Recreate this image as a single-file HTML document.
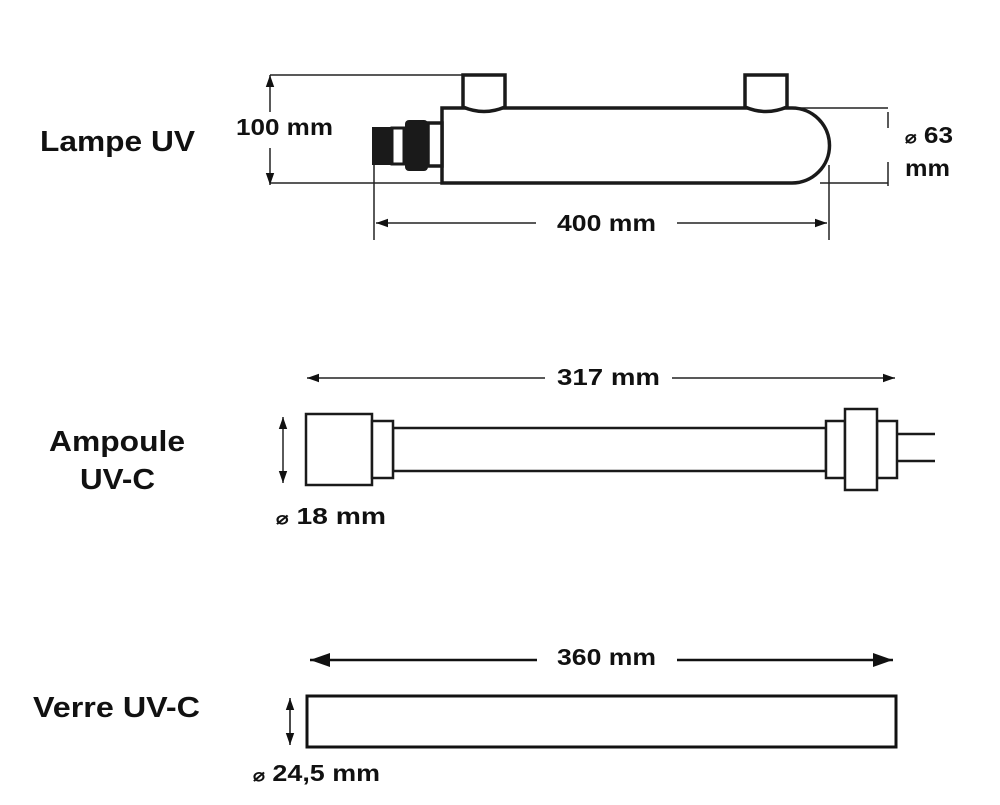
<!DOCTYPE html>
<html><head><style>
body{margin:0;background:#fff;}
svg text{font-family:"Liberation Sans",Arial,sans-serif;font-weight:bold;fill:#111;}
</style></head><body>
<svg width="1000" height="800" viewBox="0 0 1000 800" xmlns="http://www.w3.org/2000/svg">
<defs>
<marker id="a" viewBox="0 0 10 10" refX="10" refY="5" markerWidth="8" markerHeight="8" orient="auto-start-reverse"><path d="M0,1.5 L10,5 L0,8.5 z" fill="#111"/></marker>
</defs>
<text x="40" y="151" font-size="29" textLength="155" lengthAdjust="spacingAndGlyphs">Lampe UV</text>
<text x="236" y="135" font-size="23" textLength="97" lengthAdjust="spacingAndGlyphs">100 mm</text>
<text x="905" y="143" font-size="23" textLength="48" lengthAdjust="spacingAndGlyphs"><tspan font-size="17">⌀</tspan> 63</text>
<text x="905" y="176" font-size="23" textLength="45" lengthAdjust="spacingAndGlyphs">mm</text>
<text x="557" y="231" font-size="23" textLength="99" lengthAdjust="spacingAndGlyphs">400 mm</text>
<g stroke="#222" stroke-width="1.5" fill="none">
<line x1="270" y1="75" x2="505" y2="75"/>
<line x1="270" y1="183" x2="442" y2="183"/>
<line x1="270" y1="112" x2="270" y2="75" marker-end="url(#a)"/>
<line x1="270" y1="148" x2="270" y2="185" marker-end="url(#a)"/>
<line x1="787" y1="108" x2="888" y2="108"/>
<line x1="820" y1="183" x2="888" y2="183"/>
<line x1="888" y1="112" x2="888" y2="128"/>
<line x1="888" y1="162" x2="888" y2="186"/>
<line x1="374" y1="165" x2="374" y2="240"/>
<line x1="829" y1="165" x2="829" y2="240"/>
<line x1="536" y1="223" x2="376" y2="223" marker-end="url(#a)"/>
<line x1="677" y1="223" x2="827" y2="223" marker-end="url(#a)"/>
</g>
<g stroke="#1a1a1a" stroke-width="3.5" fill="#fff">
<path d="M442,108 H792 A37.5,37.5 0 0 1 792,183 H442 Z"/>
<path d="M463,75 H505 V107 Q484,116 463,107 Z"/>
<path d="M745,75 H787 V107 Q766,116 745,107 Z"/>
<rect x="428" y="123" width="14" height="43"/>
</g>
<rect x="372" y="127" width="20" height="38" fill="#1a1a1a"/>
<rect x="392" y="128" width="12" height="36" fill="#fff" stroke="#1a1a1a" stroke-width="3"/>
<rect x="405" y="120" width="23" height="51" rx="4" fill="#1a1a1a"/>

<text x="49" y="451" font-size="29" textLength="136" lengthAdjust="spacingAndGlyphs">Ampoule</text>
<text x="80" y="489" font-size="29" textLength="75" lengthAdjust="spacingAndGlyphs">UV-C</text>
<text x="276" y="524" font-size="23" textLength="110" lengthAdjust="spacingAndGlyphs"><tspan font-size="17">⌀</tspan> 18 mm</text>
<text x="557" y="385" font-size="23" textLength="103" lengthAdjust="spacingAndGlyphs">317 mm</text>
<g stroke="#222" stroke-width="1.5" fill="none">
<line x1="545" y1="378" x2="307" y2="378" marker-end="url(#a)"/>
<line x1="672" y1="378" x2="895" y2="378" marker-end="url(#a)"/>
<line x1="283" y1="450" x2="283" y2="417" marker-end="url(#a)"/>
<line x1="283" y1="450" x2="283" y2="483" marker-end="url(#a)"/>
</g>
<g stroke="#1a1a1a" stroke-width="2.5" fill="#fff">
<rect x="393" y="428" width="433" height="43"/>
<rect x="306" y="414" width="66" height="71"/>
<rect x="372" y="421" width="21" height="57"/>
<rect x="826" y="421" width="19" height="57"/>
<rect x="877" y="421" width="20" height="57"/>
<rect x="845" y="409" width="32" height="81"/>
<line x1="897" y1="434" x2="935" y2="434"/>
<line x1="897" y1="461" x2="935" y2="461"/>
</g>

<text x="33" y="717" font-size="29" textLength="167" lengthAdjust="spacingAndGlyphs">Verre UV-C</text>
<text x="557" y="665" font-size="23" textLength="99" lengthAdjust="spacingAndGlyphs">360 mm</text>
<text x="253" y="781" font-size="23" textLength="127" lengthAdjust="spacingAndGlyphs"><tspan font-size="17">⌀</tspan> 24,5 mm</text>
<g stroke="#111" stroke-width="2.5" fill="none">
<line x1="537" y1="660" x2="310" y2="660" marker-end="url(#a)"/>
<line x1="677" y1="660" x2="893" y2="660" marker-end="url(#a)"/>
</g>
<g stroke="#111" stroke-width="1.5" fill="none">
<line x1="290" y1="720" x2="290" y2="698" marker-end="url(#a)"/>
<line x1="290" y1="720" x2="290" y2="745" marker-end="url(#a)"/>
</g>
<rect x="307" y="696" width="589" height="51" fill="#fff" stroke="#111" stroke-width="3"/>
</svg>
</body></html>
